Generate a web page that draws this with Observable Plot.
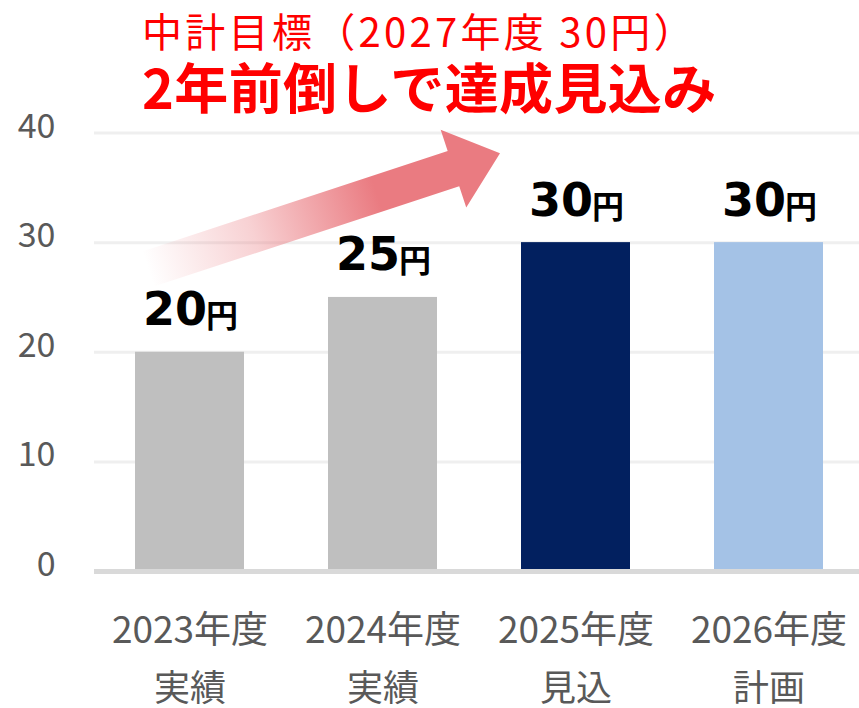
<!DOCTYPE html>
<html>
<head>
<meta charset="utf-8">
<script src="https://cdn.jsdelivr.net/npm/d3@7"></script>
<script src="https://cdn.jsdelivr.net/npm/@observablehq/plot@0.6"></script>
<style>
  html, body { margin: 0; padding: 0; background: #ffffff; }
  #wrap { position: relative; width: 859px; height: 708px; overflow: hidden; background: #fff; }
  #chart { position: absolute; left: 0; top: 0; }
  .title { position: absolute; white-space: nowrap; color: #FF0000; font-family: "Noto Sans CJK JP", sans-serif; line-height: 1; }
  #t1 { left: 142px; top: 10px; font-size: 40px; font-weight: 400; letter-spacing: 3.3px; }
  #t2 { left: 142px; top: 59px; font-size: 54px; font-weight: 700; letter-spacing: 0.4px; }
</style>
</head>
<body>
<div id="wrap">
  <div id="chart"></div>
  <div class="title" id="t1"></div>
  <div class="title" id="t2"></div>
</div>
<script>
// ---- data ----
const categories = ["2023年度", "2024年度", "2025年度", "2026年度"];
const subLabels = ["実績", "実績", "見込", "計画"];
const values = [20, 25, 30, 30];
const barColors = ["#BFBFBF", "#BFBFBF", "#02205F", "#A4C2E6"];
const yTicks = [0, 10, 20, 30, 40];
const valueUnit = "円";
const titleLine1 = "中計目標（2027年度 30円）";
const titleLine2 = "2年前倒しで達成見込み";
// decorative arrow: from beside the first bar up to beside the third bar
const arrowFrom = {category: "2023年度", value: 27.55, offset: -41.5};
const arrowTo = {category: "2025年度", value: 38.1, offset: -75.5};
const arrowColor = "#EA7B81";

document.getElementById("t1").textContent = titleLine1;
document.getElementById("t2").textContent = titleLine2;

const data = categories.map((c, i) => ({category: c, sub: subLabels[i], value: values[i], color: barColors[i]}));

function arrowMark(index, scales) {
  const xs = scales.x;
  const bw = typeof xs.bandwidth === "function" ? xs.bandwidth() : 109;
  const pt = (a) => [xs(a.category) + bw / 2 + a.offset, scales.y(a.value)];
  const T = pt(arrowFrom), P = pt(arrowTo);
  const len = Math.hypot(P[0] - T[0], P[1] - T[1]);
  const u = [(P[0] - T[0]) / len, (P[1] - T[1]) / len];
  const n = [-u[1], u[0]];
  const shaftHalf = 18.5, headHalf = 41, headLen = 49;
  const B = [P[0] - u[0] * headLen, P[1] - u[1] * headLen];
  const off = (p, k) => [p[0] + n[0] * k, p[1] + n[1] * k];
  const pts = [off(T, -shaftHalf), off(B, -shaftHalf), off(B, -headHalf), P, off(B, headHalf), off(B, shaftHalf), off(T, shaftHalf)];
  const g = d3.create("svg:g");
  const grad = g.append("defs").append("linearGradient")
    .attr("id", "arrowGrad").attr("gradientUnits", "userSpaceOnUse")
    .attr("x1", T[0]).attr("y1", T[1]).attr("x2", P[0]).attr("y2", P[1]);
  grad.append("stop").attr("offset", 0).attr("stop-color", arrowColor).attr("stop-opacity", 0);
  grad.append("stop").attr("offset", 0.3).attr("stop-color", arrowColor).attr("stop-opacity", 0.35);
  grad.append("stop").attr("offset", 0.65).attr("stop-color", arrowColor).attr("stop-opacity", 1);
  grad.append("stop").attr("offset", 1).attr("stop-color", arrowColor).attr("stop-opacity", 1);
  g.append("path").attr("d", "M" + pts.map(p => p.join(",")).join("L") + "Z").attr("fill", "url(#arrowGrad)");
  return g.node();
}

const chart = Plot.plot({
  width: 859,
  height: 708,
  marginLeft: 94,
  marginRight: 0,
  marginTop: 132.5,
  marginBottom: 137,
  style: {fontFamily: '"Noto Sans CJK JP", sans-serif', background: "transparent", overflow: "visible"},
  x: {domain: categories, range: [93, 865], paddingInner: 0.435, paddingOuter: 0.2175, axis: null},
  y: {domain: [0, 40], axis: null},
  color: {type: "identity"},
  marks: [
    Plot.ruleY(yTicks.filter(d => d > 0), {stroke: "#EFEFEF", strokeWidth: 3}),
    arrowMark,
    Plot.barY(data, {x: "category", y: "value", fill: "color"}),
    Plot.ruleY([0], {stroke: "#D9D9D9", strokeWidth: 5}),
    Plot.text(yTicks, {y: d => d, text: d => String(d), frameAnchor: "left", textAnchor: "end", lineAnchor: "bottom", dx: -39, dy: 4.5, fontSize: 34, fill: "#595959"}),
    Plot.text(data, {x: "category", text: "category", frameAnchor: "bottom", lineAnchor: "bottom", dy: 71, fontSize: 37, fill: "#595959"}),
    Plot.text(data, {x: "category", text: "sub", frameAnchor: "bottom", lineAnchor: "bottom", dy: 129, fontSize: 36, fill: "#595959"}),
    Plot.text(data, {x: "category", y: "value", text: d => String(d.value), textAnchor: "end", lineAnchor: "bottom", dx: 17, dy: -27, fontSize: 46, fontWeight: "bold", fontFamily: "DejaVu Sans", fill: "#000000"}),
    Plot.text(data, {x: "category", y: "value", text: () => valueUnit, textAnchor: "start", lineAnchor: "bottom", dx: 16, dy: -25, fontSize: 32, fontWeight: "bold", fill: "#000000"})
  ]
});
document.getElementById("chart").appendChild(chart);
</script>
</body>
</html>
